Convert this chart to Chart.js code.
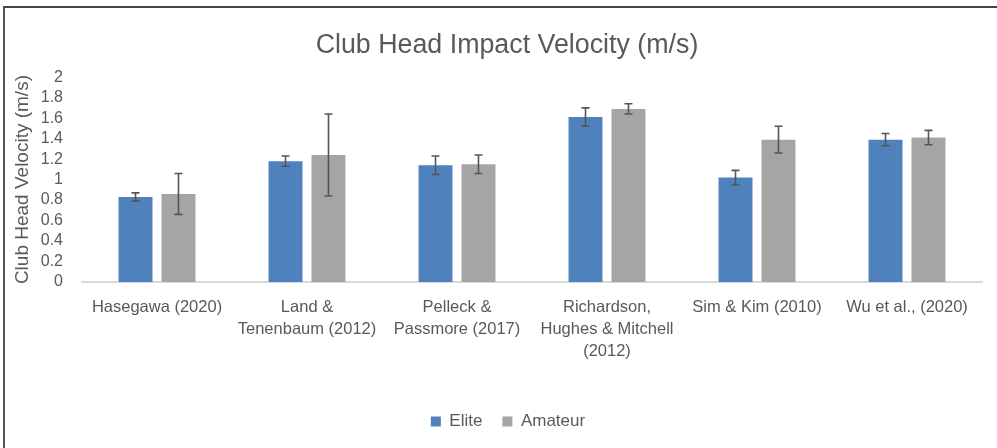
<!DOCTYPE html>
<html>
<head>
<meta charset="utf-8">
<script src="https://cdn.jsdelivr.net/npm/chart.js@4.4.1/dist/chart.umd.min.js"></script>
<style>
  html, body { margin: 0; padding: 0; background: #fff; }
  #wrap { position: relative; width: 997px; height: 448px; overflow: hidden; }
  #frame { position: absolute; left: 3px; top: 6px; width: 1000px; height: 460px;
           border-left: 2px solid #555; border-top: 2px solid #444; box-sizing: border-box; pointer-events: none; }
  canvas { position: absolute; left: 0; top: 0; }
</style>
</head>
<body>
<div id="wrap">
  <canvas id="c" width="997" height="448"></canvas>
  <div id="frame"></div>
</div>
<script>
const categories = [
  "Hasegawa (2020)",
  ["Land &", "Tenenbaum (2012)"],
  ["Pelleck &", "Passmore (2017)"],
  ["Richardson,", "Hughes & Mitchell", "(2012)"],
  "Sim & Kim (2010)",
  "Wu et al., (2020)"
];
const eliteValues   = [0.83, 1.18, 1.14, 1.61, 1.02, 1.39];
const eliteErrors   = [0.04, 0.05, 0.09, 0.09, 0.07, 0.06];
const amateurValues = [0.86, 1.24, 1.15, 1.69, 1.39, 1.41];
const amateurErrors = [0.20, 0.40, 0.09, 0.05, 0.13, 0.07];
const yTicks = [0, 0.2, 0.4, 0.6, 0.8, 1, 1.2, 1.4, 1.6, 1.8, 2];

const FONT = "'Liberation Sans', Arial, sans-serif";
const TXT = "#595959";

const errorBars = {
  id: "errorBars",
  afterDatasetsDraw(chart) {
    const ctx = chart.ctx;
    const ys = chart.scales.y;
    ctx.save();
    ctx.strokeStyle = "#555555";
    ctx.lineWidth = 1.6;
    chart.data.datasets.forEach((ds, di) => {
      const meta = chart.getDatasetMeta(di);
      meta.data.forEach((bar, i) => {
        const v = ds.data[i], e = ds.errors[i];
        const x = bar.x;
        const yt = ys.getPixelForValue(v + e);
        const yb = ys.getPixelForValue(v - e);
        const cap = 4;
        ctx.beginPath();
        ctx.moveTo(x, yt); ctx.lineTo(x, yb);
        ctx.moveTo(x - cap, yt); ctx.lineTo(x + cap, yt);
        ctx.moveTo(x - cap, yb); ctx.lineTo(x + cap, yb);
        ctx.stroke();
      });
    });
    ctx.restore();
  }
};

// shift the centred title and legend a little to the right, like the reference
const shiftBoxes = {
  id: "shiftBoxes",
  afterLayout(chart) {
    if (chart.legend) { chart.legend.left += 17; chart.legend.right += 17; }
    if (chart.titleBlock) { chart.titleBlock.left += 16; chart.titleBlock.right += 16; }
  }
};

new Chart(document.getElementById("c"), {
  type: "bar",
  data: {
    labels: categories,
    datasets: [
      { label: "Elite", data: eliteValues, errors: eliteErrors,
        backgroundColor: "#4F81BD", borderColor: "#ffffff", borderWidth: 0 },
      { label: "Amateur", data: amateurValues, errors: amateurErrors,
        backgroundColor: "#A5A5A5", borderColor: "#ffffff", borderWidth: 0 }
    ]
  },
  options: {
    responsive: false,
    animation: false,
    devicePixelRatio: 1,
    layout: { padding: { left: 0, right: 15, top: 12, bottom: 8 } },
    datasets: { bar: { categoryPercentage: 0.573, barPercentage: 0.79 } },
    plugins: {
      title: {
        display: true,
        text: "Club Head Impact Velocity (m/s)",
        color: TXT,
        font: { family: FONT, size: 26.8, weight: "normal" },
        padding: { top: 18, bottom: 15 }
      },
      legend: {
        position: "bottom",
        labels: {
          color: TXT,
          font: { family: FONT, size: 17 },
          boxWidth: 10, boxHeight: 10, padding: 20
        }
      },
      tooltip: { enabled: false }
    },
    scales: {
      x: {
        grid: { display: false, drawTicks: false },
        border: { display: true, color: "#d9d9d9", width: 2 },
        ticks: { color: TXT, font: { family: FONT, size: 16.5, lineHeight: 1.35 }, padding: 14, maxRotation: 0, autoSkip: false },
        afterFit(scale) { scale.height = 111; }
      },
      y: {
        min: 0, max: 2,
        afterBuildTicks(scale) { scale.ticks = yTicks.map(v => ({ value: v })); },
        grid: { display: false, drawTicks: false },
        border: { display: false },
        ticks: { color: TXT, font: { family: FONT, size: 16 }, padding: 19, autoSkip: false,
                 callback: v => String(v) },
        title: { display: true, text: "Club Head Velocity (m/s)", color: TXT,
                 font: { family: FONT, size: 19 }, padding: { top: 11, bottom: 0 } },
        afterFit(scale) { scale.width = 82; }
      }
    }
  },
  plugins: [errorBars, shiftBoxes]
});
</script>
</body>
</html>
